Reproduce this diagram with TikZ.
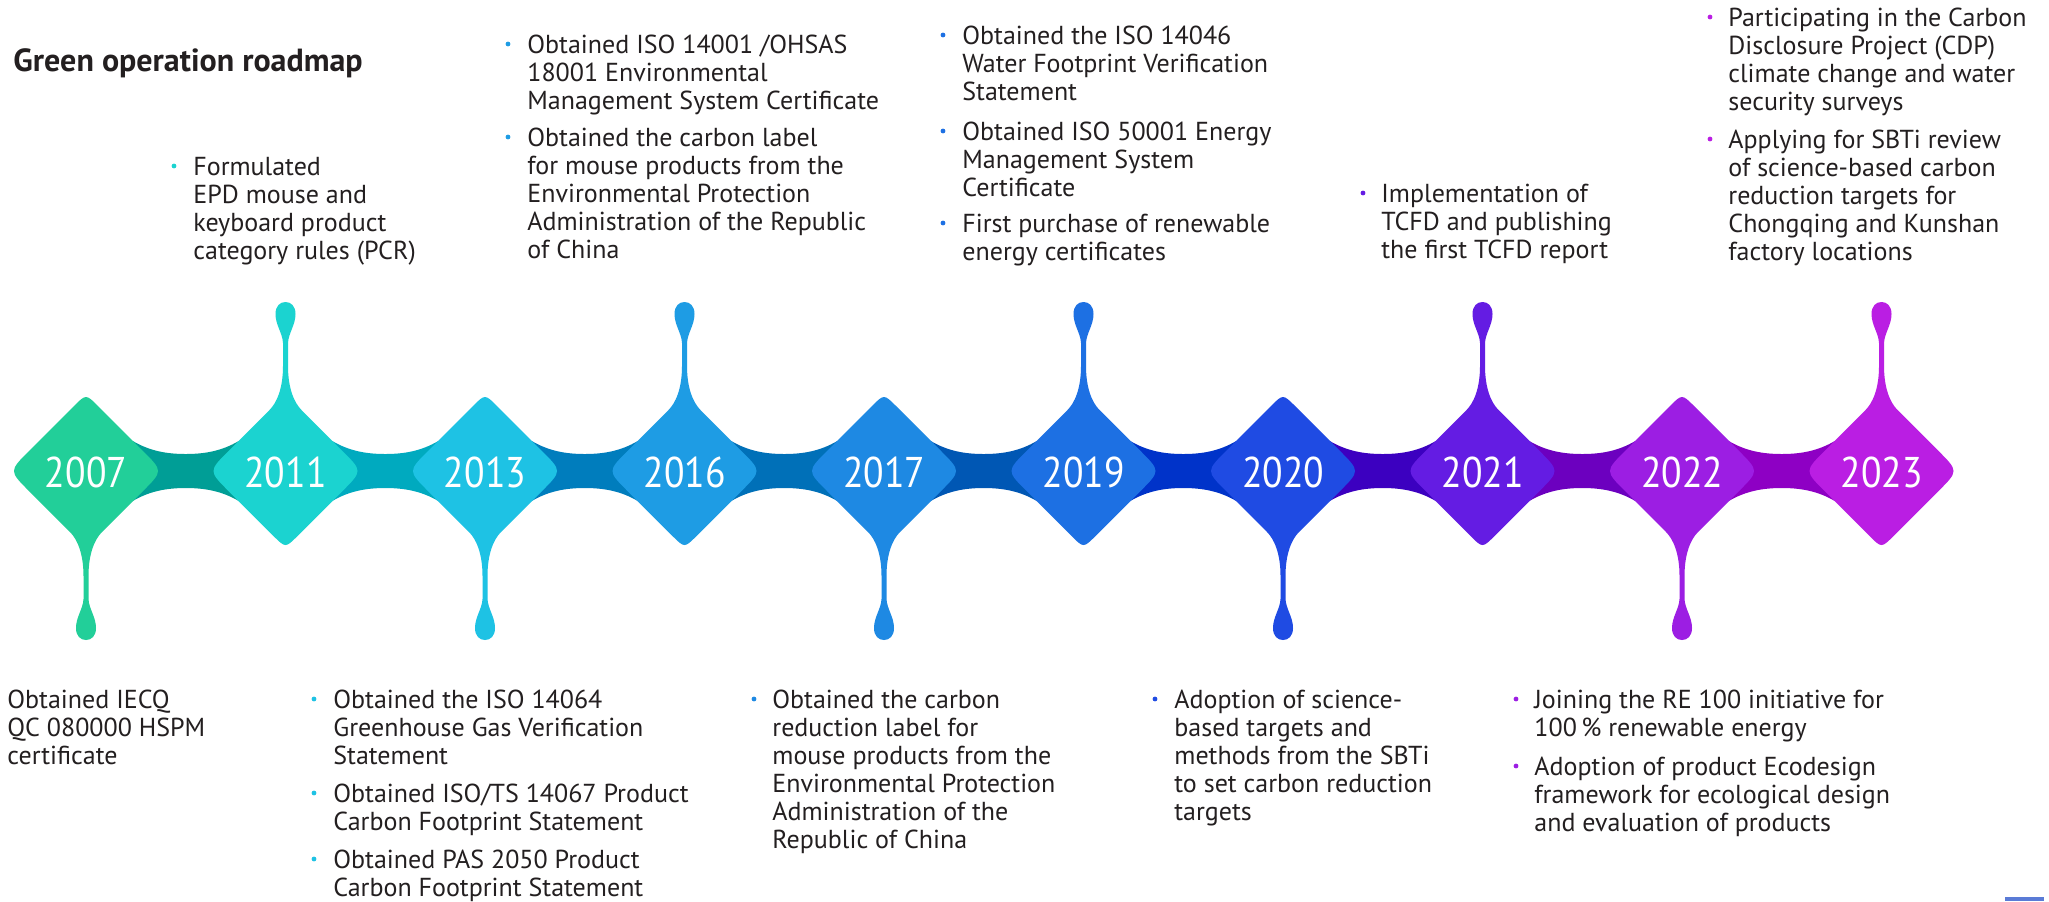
\documentclass[tikz,border=0pt]{standalone}
\usepackage{fontspec}
\setmainfont{PT Sans}
\newfontfamily\yearfont[FakeStretch=0.875]{PT Sans}
\definecolor{d1}{HTML}{22CF99}
\definecolor{d2}{HTML}{1BD3D0}
\definecolor{d3}{HTML}{1EC2E4}
\definecolor{d4}{HTML}{1E9CE4}
\definecolor{d5}{HTML}{1E89E3}
\definecolor{d6}{HTML}{1D70E3}
\definecolor{d7}{HTML}{1F4BE3}
\definecolor{d8}{HTML}{641CE3}
\definecolor{d9}{HTML}{9C1EE3}
\definecolor{d10}{HTML}{BA1EE3}
\definecolor{b1}{HTML}{009E96}
\definecolor{b2}{HTML}{00AABF}
\definecolor{b3}{HTML}{007DBD}
\definecolor{b4}{HTML}{0070B8}
\definecolor{b5}{HTML}{0057B4}
\definecolor{b6}{HTML}{0033C9}
\definecolor{b7}{HTML}{3C00C0}
\definecolor{b8}{HTML}{6C00BF}
\definecolor{b9}{HTML}{8E00C4}
\definecolor{textc}{HTML}{231F20}
\definecolor{artc}{HTML}{5A7BD6}
\newcommand\tstrut{\rule{0pt}{11pt}}
\begin{document}
\begin{tikzpicture}[x=0.5pt,y=-0.5pt,
  body/.style={anchor=north west, inner sep=0pt, align=left, text=textc,
    font=\fontsize{13pt}{14pt}\selectfont},
  bul/.style={circle, fill=#1, inner sep=0pt, minimum size=2.4pt},
  year/.style={text=white, inner sep=0pt, font=\yearfont\fontsize{21.5pt}{24pt}\selectfont},
  titlestyle/.style={anchor=base west, inner sep=0pt, text=textc,
    font=\fontsize{16pt}{18pt}\selectfont\bfseries}]
\fill[white] (0,0) rectangle (2049,901);
\useasboundingbox (0,0) rectangle (2049,901);
% connecting bands
\foreach \i/\c in {0/b1,1/b2,2/b3,3/b4,4/b5,5/b6,6/b7,7/b8,8/b9}{
  \pgfmathsetmacro\mx{185.75+199.5*\i}
  \fill[\c, shift={(\mx,471)}] (-100,-30) -- (-53,-30) .. controls (-36,-20) and (-19,-17) .. (0,-17)
    .. controls (19,-17) and (36,-20) .. (53,-30) -- (100,-30) -- (100,30) -- (53,30)
    .. controls (36,20) and (19,17) .. (0,17) .. controls (-19,17) and (-36,20) .. (-53,30)
    -- (-100,30) -- cycle;
}
% diamonds with stems
\foreach \i/\c/\s in {0/d1/-1,1/d2/1,2/d3/-1,3/d4/1,4/d5/-1,5/d6/1,6/d7/-1,7/d8/1,8/d9/-1,9/d10/1}{
  \pgfmathsetmacro\cx{86+199.5*\i}
  \begin{scope}[shift={(\cx,471)}, yscale=\s]
  \fill[\c] (-57,-20) -- (-16,-61) .. controls (-9,-68) and (-2.5,-82) .. (-2.5,-105) -- (-2.5,-128)
    .. controls (-3,-138) and (-10,-146) .. (-10,-157) .. controls (-10,-165) and (-5.5,-169) .. (0,-169)
    .. controls (5.5,-169) and (10,-165) .. (10,-157) .. controls (10,-146) and (3,-138) .. (2.5,-128)
    -- (2.5,-105) .. controls (2.5,-82) and (9,-68) .. (16,-61) -- (57,-20)
    .. controls (77,0) .. (57,20) -- (12,65) .. controls (0,77) .. (-12,65) -- (-57,20)
    .. controls (-77,0) .. (-57,-20) -- cycle;
  \end{scope}
}
% years
\node[year] (y2007) at (86,472) {2007};
\node[year] (y2011) at (285.5,472) {2011};
\node[year] (y2013) at (485,472) {2013};
\node[year] (y2016) at (684.5,472) {2016};
\node[year] (y2017) at (884,472) {2017};
\node[year] (y2019) at (1083.5,472) {2019};
\node[year] (y2020) at (1283,472) {2020};
\node[year] (y2021) at (1482.5,472) {2021};
\node[year] (y2022) at (1682,472) {2022};
\node[year] (y2023) at (1881.5,472) {2023};
% title
\node[titlestyle] (title) at (13,71) {Green operation roadmap};
% 2011
\node[bul=d2] (p2011a) at (174,166) {};
\node[body] (t2011a) at (193,153) {\tstrut Formulated\\EPD mouse and\\keyboard product\\category rules (PCR)};
% 2016
\node[bul=d4] (p2016a) at (508,44) {};
\node[body] (t2016a) at (527,31) {\tstrut Obtained ISO 14001 /OHSAS\\18001 Environmental\\Management System Certificate};
\node[bul=d4] (p2016b) at (508,137) {};
\node[body] (t2016b) at (527,124) {\tstrut Obtained the carbon label\\for mouse products from the\\Environmental Protection\\Administration of the Republic\\of China};
% 2019
\node[bul=d6] (p2019a) at (943,35) {};
\node[body] (t2019a) at (962,22) {\tstrut Obtained the ISO 14046\\Water Footprint Verification\\Statement};
\node[bul=d6] (p2019b) at (943,131) {};
\node[body] (t2019b) at (962,118) {\tstrut Obtained ISO 50001 Energy\\Management System\\Certificate};
\node[bul=d6] (p2019c) at (943,223) {};
\node[body] (t2019c) at (962,210) {\tstrut First purchase of renewable\\energy certificates};
% 2021
\node[bul=d8] (p2021a) at (1363,193) {};
\node[body] (t2021a) at (1381,180) {\tstrut Implementation of\\TCFD and publishing\\the first TCFD report};
% 2023
\node[bul=d10] (p2023a) at (1710,17) {};
\node[body] (t2023a) at (1728,4) {\tstrut Participating in the Carbon\\Disclosure Project (CDP)\\climate change and water\\security surveys};
\node[bul=d10] (p2023b) at (1710,139) {};
\node[body] (t2023b) at (1728,126) {\tstrut Applying for SBTi review\\of science-based carbon\\reduction targets for\\Chongqing and Kunshan\\factory locations};
% 2007
\node[body] (t2007a) at (7,686) {\tstrut Obtained IECQ\\QC 080000 HSPM\\certificate};
% 2013
\node[bul=d3] (p2013a) at (314,699) {};
\node[body] (t2013a) at (333,686) {\tstrut Obtained the ISO 14064\\Greenhouse Gas Verification\\Statement};
\node[bul=d3] (p2013b) at (314,793) {};
\node[body] (t2013b) at (333,780) {\tstrut Obtained ISO/TS 14067 Product\\Carbon Footprint Statement};
\node[bul=d3] (p2013c) at (314,859) {};
\node[body] (t2013c) at (333,846) {\tstrut Obtained PAS 2050 Product\\Carbon Footprint Statement};
% 2017
\node[bul=d5] (p2017a) at (754,699) {};
\node[body] (t2017a) at (772,686) {\tstrut Obtained the carbon\\reduction label for\\mouse products from the\\Environmental Protection\\Administration of the\\Republic of China};
% 2020
\node[bul=d7] (p2020a) at (1155,699) {};
\node[body] (t2020a) at (1174,686) {\tstrut Adoption of science-\\based targets and\\methods from the SBTi\\to set carbon reduction\\targets};
% 2022
\node[bul=d9] (p2022a) at (1516,699) {};
\node[body] (t2022a) at (1534,686) {\tstrut Joining the RE 100 initiative for\\100\,\% renewable energy};
\node[bul=d9] (p2022b) at (1516,766) {};
\node[body] (t2022b) at (1534,753) {\tstrut Adoption of product Ecodesign\\framework for ecological design\\and evaluation of products};
% corner mark
\fill[artc] (2005,897) rectangle (2044,901);
\end{tikzpicture}
\end{document}
